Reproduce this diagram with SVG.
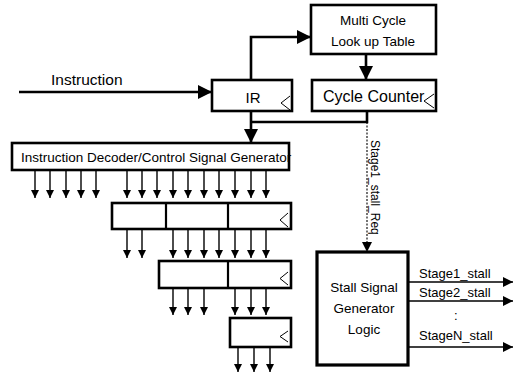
<svg xmlns="http://www.w3.org/2000/svg" width="521" height="374" viewBox="0 0 521 374">
<defs>
<style>
.box{fill:#fff;stroke:#000;stroke-width:2.6}
.thick{fill:#fff;stroke:#000;stroke-width:3.2}
.ln{fill:none;stroke:#000;stroke-width:2.6}
.sl{fill:none;stroke:#000;stroke-width:1.4}
.dv{fill:none;stroke:#000;stroke-width:2.2}
.dl{fill:none;stroke:#000;stroke-width:1.1;stroke-dasharray:2 1.5}
.clk{fill:none;stroke:#000;stroke-width:1}
text{font-family:"Liberation Sans",Arial,sans-serif;fill:#000}
</style>
<marker id="big" viewBox="0 0 14 14" refX="14" refY="7" markerWidth="14" markerHeight="14" markerUnits="userSpaceOnUse" orient="auto"><path d="M0,0L14,7L0,14Z" fill="#000"/></marker>
<marker id="sm" viewBox="0 0 8 8" refX="8" refY="4" markerWidth="8" markerHeight="8" markerUnits="userSpaceOnUse" orient="auto"><path d="M0,0L8,4L0,8Z" fill="#000"/></marker>
<marker id="md" viewBox="0 0 10 10" refX="10" refY="5" markerWidth="10" markerHeight="10" markerUnits="userSpaceOnUse" orient="auto"><path d="M0,0L10,5L0,10Z" fill="#000"/></marker>
</defs>
<rect width="521" height="374" fill="#fff"/>

<g id="connectors">
<path class="ln" d="M19,92H212" marker-end="url(#big)"/>
<path class="ln" d="M251,80V37H311" marker-end="url(#big)"/>
<path class="ln" d="M366,54V80" marker-end="url(#big)"/>
<path class="ln" d="M251,111V143" marker-end="url(#big)"/>
<path class="ln" d="M367,111V122H251"/>
<path class="dl" d="M367,122V252" marker-end="url(#md)"/>
<g class="sl">
<path d="M35,170V198" marker-end="url(#sm)"/>
<path d="M50,170V198" marker-end="url(#sm)"/>
<path d="M66,170V198" marker-end="url(#sm)"/>
<path d="M81,170V198" marker-end="url(#sm)"/>
<path d="M96,170V198" marker-end="url(#sm)"/>
<path d="M127,170V198" marker-end="url(#sm)"/>
<path d="M142,170V198" marker-end="url(#sm)"/>
<path d="M157,170V198" marker-end="url(#sm)"/>
<path d="M173,170V198" marker-end="url(#sm)"/>
<path d="M188,170V198" marker-end="url(#sm)"/>
<path d="M204,170V198" marker-end="url(#sm)"/>
<path d="M219,170V198" marker-end="url(#sm)"/>
<path d="M235,170V198" marker-end="url(#sm)"/>
<path d="M251,170V198" marker-end="url(#sm)"/>
<path d="M266,170V198" marker-end="url(#sm)"/>
<path d="M127,229V258" marker-end="url(#sm)"/>
<path d="M142,229V258" marker-end="url(#sm)"/>
<path d="M173,229V258" marker-end="url(#sm)"/>
<path d="M188,229V258" marker-end="url(#sm)"/>
<path d="M204,229V258" marker-end="url(#sm)"/>
<path d="M219,229V258" marker-end="url(#sm)"/>
<path d="M235,229V258" marker-end="url(#sm)"/>
<path d="M251,229V258" marker-end="url(#sm)"/>
<path d="M266,229V258" marker-end="url(#sm)"/>
<path d="M173,288V315" marker-end="url(#sm)"/>
<path d="M188,288V315" marker-end="url(#sm)"/>
<path d="M204,288V315" marker-end="url(#sm)"/>
<path d="M235,288V315" marker-end="url(#sm)"/>
<path d="M251,288V315" marker-end="url(#sm)"/>
<path d="M266,288V315" marker-end="url(#sm)"/>
<path d="M238,347V372" marker-end="url(#sm)"/>
<path d="M254,347V372" marker-end="url(#sm)"/>
<path d="M270,347V372" marker-end="url(#sm)"/>
<path d="M408,282H513" marker-end="url(#md)"/>
<path d="M408,301H513" marker-end="url(#md)"/>
<path d="M408,347H513" marker-end="url(#md)"/>
</g>
</g>

<text x="51" y="85" font-size="15.5">Instruction</text>
<text transform="translate(371,140) rotate(90)" font-size="12">Stage1_stall_Req</text>
<text x="419" y="278" font-size="13">Stage1_stall</text>
<text x="419" y="297" font-size="13">Stage2_stall</text>
<text x="454" y="320" font-size="13">:</text>
<text x="419" y="340" font-size="13">StageN_stall</text>

<g id="mclt">
<rect class="box" x="311" y="5" width="125" height="49"/>
<text x="373" y="25" font-size="13.5" text-anchor="middle">Multi Cycle</text>
<text x="373" y="46" font-size="13.5" text-anchor="middle">Look up Table</text>
</g>

<g id="ir">
<rect class="box" x="212" y="80" width="80" height="31"/>
<polyline class="clk" points="290,96 281,103 290,110"/>
<text x="253" y="103" font-size="15" text-anchor="middle">IR</text>
</g>

<g id="cycle-counter">
<rect class="box" x="312" y="80" width="124" height="31"/>
<polyline class="clk" points="434,94 424,101 434,108"/>
<text x="323" y="102" font-size="16">Cycle Counter</text>
</g>

<g id="decoder">
<rect class="box" x="12" y="143" width="277" height="27"/>
<text x="21" y="162" font-size="13.5">Instruction Decoder/Control Signal Generator</text>
</g>

<g id="reg1">
<rect class="box" x="112" y="203" width="179" height="26"/>
<path class="dv" d="M166,203V229M228,203V229"/>
<polyline class="clk" points="288,213 280,220 288,227"/>
</g>

<g id="reg2">
<rect class="box" x="159" y="261" width="132" height="27"/>
<path class="dv" d="M228,261V288"/>
<polyline class="clk" points="288,272 280,278.5 288,285"/>
</g>

<g id="reg3">
<rect class="box" x="230" y="318" width="61" height="29"/>
<polyline class="clk" points="288,331 280,336.5 288,342"/>
</g>

<g id="stall-logic">
<rect class="thick" x="317" y="252" width="91" height="113"/>
<text x="364" y="292" font-size="13.5" text-anchor="middle">Stall Signal</text>
<text x="364" y="313" font-size="13.5" text-anchor="middle">Generator</text>
<text x="364" y="334" font-size="13.5" text-anchor="middle">Logic</text>
</g>
</svg>
